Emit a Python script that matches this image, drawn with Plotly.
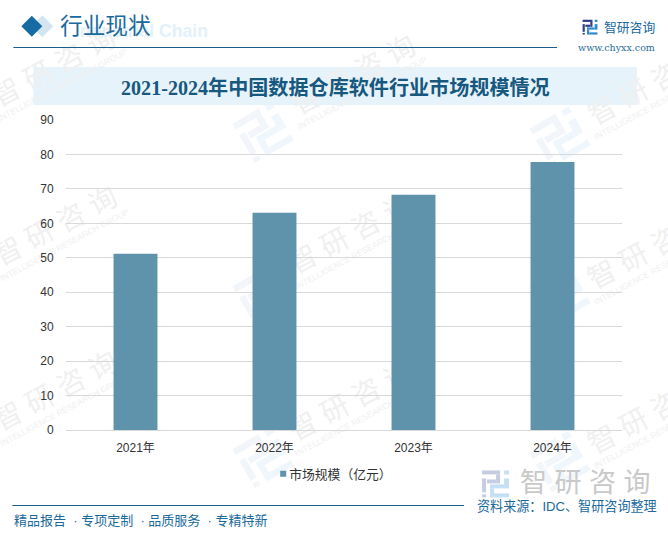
import math
import plotly.graph_objects as go

years = ["2021年", "2022年", "2023年", "2024年"]
market_size = [51.2, 63.1, 68.3, 77.8]
y_ticks = [0, 10, 20, 30, 40, 50, 60, 70, 80, 90]
series_name = "市场规模（亿元）"

W, H = 668, 535
SANS = "Liberation Sans, Noto Sans CJK SC"
SERIF = "Liberation Serif, Noto Sans CJK SC"
BLUE = "#1a5f8c"
L, R, T, B = 65.7, 622.0, 120.0, 430.5


def px(x):
    return (x - L) / (R - L)


def py(y):
    return (B - y) / (B - T)


fig = go.Figure()
fig.add_bar(x=years, y=market_size, name=series_name, marker_color="#5f93ab",
            marker_line_width=0, width=0.316)

shapes, ann = [], []


def rect(x0, y0, x1, y1, color, layer="above"):
    shapes.append(dict(type="rect", xref="paper", yref="paper", x0=px(x0), x1=px(x1),
                       y0=py(y0), y1=py(y1), fillcolor=color, line_width=0, layer=layer))


def text(x, y, s, size, color, family=SANS, anchor="center", angle=0, bold=False):
    if bold:
        s = "<b>" + s + "</b>"
    if anchor == "left":
        x -= 2  # annotation box padding
    ann.append(dict(xref="paper", yref="paper", x=px(x), y=py(y), text=s, showarrow=False,
                    font=dict(size=size, color=color, family=family), xanchor=anchor, yanchor="middle",
                    textangle=angle, align="left"))


def polygon(points, color, layer="above"):
    d = "M " + " L ".join(f"{px(a):.5f} {py(b):.5f}" for a, b in points) + " Z"
    shapes.append(dict(type="path", xref="paper", yref="paper", path=d, fillcolor=color,
                       line_width=0, layer=layer))


def diamond(cx, cy, r, color):
    polygon([(cx - r, cy), (cx, cy - r), (cx + r, cy), (cx, cy + r)], color)


LOGO_DARK = [(0, 0, 18, 4), (14, 4, 18, 13), (5, 9, 14, 13), (0, 8, 4, 22), (0, 24, 4, 27)]
LOGO_LIGHT = [(22, 0, 27, 4), (22, 8, 27, 18), (8, 14, 22, 18), (8, 18, 12, 27), (12, 23, 27, 27)]


def logo(cx, cy, scale, deg, dark, light, layer="above"):
    t = math.radians(deg)
    for parts, col in ((LOGO_DARK, dark), (LOGO_LIGHT, light)):
        for x0, y0, x1, y1 in parts:
            pts = []
            for a, b in [(x0, y0), (x1, y0), (x1, y1), (x0, y1)]:
                u, v = (a - 13.5) * scale, (b - 13.5) * scale
                pts.append((cx + u * math.cos(t) - v * math.sin(t),
                            cy + u * math.sin(t) + v * math.cos(t)))
            polygon(pts, col, layer)


# watermarks, moved behind the bars by the page script below
WM = "#f0f0f0"
for cx, cy in [(53, 67), (353, 75), (650, 85), (55, 227), (350, 235), (650, 250), (55, 392), (350, 402), (650, 415)]:
    text(cx, cy, "智 研 咨 询", 28, WM, angle=-28)
    text(cx + 9, cy + 18, "INTELLIGENCE RESEARCH GROUP", 8.5, WM, "Liberation Sans", angle=-28)
n_watermark = len(ann)
for cx, cy in [(263, 132), (560, 137), (263, 295), (560, 295), (263, 458), (560, 462)]:
    logo(cx, cy, 1.67, -30, "#f2f5f9", "#f0f7fc", "below")

# header
rect(33, 67, 637, 105, "#e6f3fb", "below")
diamond(42, 26, 11, "#d4e5f0")
diamond(31.5, 26, 10.5, "#166ba4")
text(75, 31, "Industrial Chain", 17.6, "#e4f1fa", "Liberation Sans", anchor="left", bold=True)
text(60, 26, "行业现状", 22.7, "#1a6a9c", anchor="left")
rect(13, 47, 557, 48, BLUE)
text(335, 87.5, "2021-2024年中国数据仓库软件行业市场规模情况", 20.1, "#17587f", SERIF, bold=True)

# logo top right
logo(590, 27, 0.55, 0, "#2f3f88", "#2a8bd0")
text(604, 27, "智研咨询", 12.8, "#1a6a9c", anchor="left")
text(578, 47, "www.chyxx.com", 9.5, "#2d6d96", "DejaVu Serif", anchor="left")

# bottom logo and text
logo(495.5, 484.5, 1.0, 0, "#c5cde3", "#c5e0f2")
text(520, 484, "智 研 咨 询", 27, "#c9c9c9", anchor="left")
text(477, 507, "资料来源：IDC、智研咨询整理", 13.1, "#1a6a9c", anchor="left")
rect(12, 505.5, 464, 506.7, BLUE)
text(13.5, 521, "精品报告\u00a0\u00a0·\u00a0专项定制\u00a0\u00a0·\u00a0品质服务\u00a0\u00a0·\u00a0专精特新", 13, "#1a6a9c", anchor="left")

fig.update_layout(
    width=W, height=H, autosize=False, paper_bgcolor="rgba(255,255,255,1)", plot_bgcolor="rgba(0,0,0,0)",
    margin=dict(l=L, r=W - R, t=T, b=H - B),
    font=dict(family=SANS, size=12, color="#333333"),
    xaxis=dict(type="category", tickfont=dict(size=12, color="#333333"), showgrid=False,
               ticks="outside", ticklen=7, tickcolor="rgba(0,0,0,0)",
               showline=True, linecolor="#d9d9d9", linewidth=1),
    yaxis=dict(range=[0, 90], tickvals=y_ticks, showgrid=True, gridcolor="#d9d9d9", gridwidth=1,
               zeroline=False, ticks="outside", ticklen=9, tickcolor="rgba(0,0,0,0)", showline=False,
               tickfont=dict(size=12, color="#333333")),
    legend=dict(orientation="h", x=px(249), xanchor="left", y=py(474.5), yanchor="middle",
                font=dict(size=12.8, color="#333333"), bgcolor="rgba(0,0,0,0)"),
    shapes=shapes, annotations=ann, showlegend=True,
)

post = """
document.body.style.margin='0';
var gd=document.getElementById('{plot_id}');
var below=gd.querySelector('.layer-below');
gd.querySelectorAll('.annotation').forEach(function(a){
  if(+a.getAttribute('data-index')<%d){below.appendChild(a);}
});
gd.querySelectorAll('.legend .legendpoints path').forEach(function(p){
  p.setAttribute('d','M3,3H-3V-3H3Z');
  p.setAttribute('transform','translate(34,0)');
});
""" % n_watermark
fig.write_html("out.html", post_script=post, config={"displayModeBar": False})
